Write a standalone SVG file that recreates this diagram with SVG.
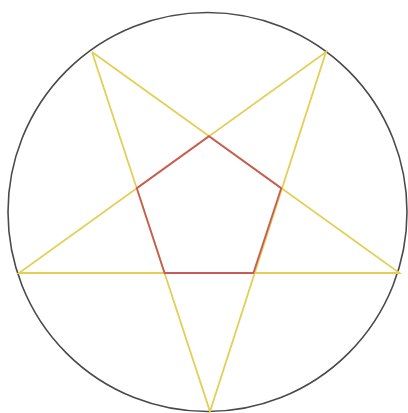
<svg xmlns="http://www.w3.org/2000/svg" width="408" height="413" viewBox="0 0 408 413">
<style>
.circle{fill:none;stroke:#4a4a4a;stroke-width:1.6}
.star{fill:none;stroke:#e3cf55;stroke-width:1.8;stroke-linejoin:miter}
.pent{fill:none;stroke:#c85a5a;stroke-width:1.8}
</style>
<rect width="408" height="413" fill="#ffffff"/>
<g id="circle"><circle class="circle" cx="207.5" cy="212" r="199.5"/></g>
<g id="star">
<polyline class="star" points="92,52 399.5,273 19,273 326,52 210,411.5 92,52"/>
</g>
<g id="pentagon">
<polygon class="pent" points="209,136.2 281.2,188.2 253.4,273 164.6,273 136.8,188.2"/>
</g>
</svg>
